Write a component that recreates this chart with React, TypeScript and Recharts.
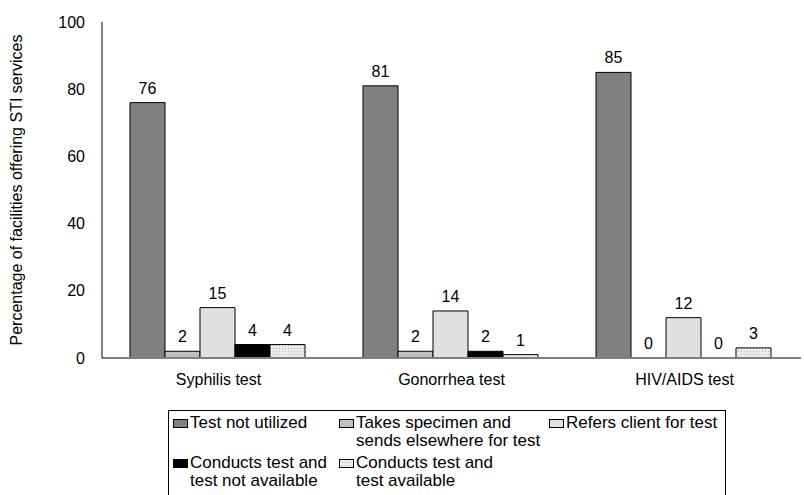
import { BarChart, Bar, XAxis, YAxis, Legend, LabelList, Label, Cell } from "recharts";

const tests = ["Syphilis test", "Gonorrhea test", "HIV/AIDS test"];
const notUtilized = [76, 81, 85];
const sendsElsewhere = [2, 2, 0];
const refersClient = [15, 14, 12];
const notAvailable = [4, 2, 0];
const available = [4, 1, 3];
const yTicks = [0, 20, 40, 60, 80, 100];

const seriesList = [
  { key: "notUtilized", name: "Test not utilized", fill: "#808080" },
  { key: "sendsElsewhere", name: "Takes specimen and\nsends elsewhere for test", fill: "#c0c0c0" },
  { key: "refersClient", name: "Refers client for test", fill: "#e0e0e0" },
  { key: "notAvailable", name: "Conducts test and\ntest not available", fill: "#000000" },
  { key: "available", name: "Conducts test and\ntest available", fill: "url(#dots)" },
];

const data = tests.map((t, i) => ({
  test: t,
  notUtilized: notUtilized[i],
  sendsElsewhere: sendsElsewhere[i],
  refersClient: refersClient[i],
  notAvailable: notAvailable[i],
  available: available[i],
}));

const font = "'Liberation Sans', Arial, sans-serif";

// legend in 3 columns, like the excel original
const LegendBox = () => {
  const cols = [4, 170, 380];
  return (
    <div style={{ position: "relative", width: "100%", height: "100%", fontFamily: font, fontSize: 17, color: "#000" }}>
      {seriesList.map((s, i) => {
        const col = i % 3;
        const row = Math.floor(i / 3);
        return (
          <div
            key={s.key}
            style={{ position: "absolute", left: cols[col], top: 3 + row * 40, display: "flex", alignItems: "flex-start" }}
          >
            <svg width={16} height={10} style={{ marginTop: 5, marginRight: 1 }}>
              <rect x={0.5} y={0.5} width={14} height={8} fill={s.fill} stroke="#000" />
            </svg>
            <div style={{ whiteSpace: "pre", lineHeight: "18px" }}>{s.name}</div>
          </div>
        );
      })}
    </div>
  );
};

export default function App() {
  return (
    <div style={{ position: "absolute", left: 0, top: 0, width: 804, height: 495, overflow: "hidden", background: "#fff" }}>
      <BarChart
        width={804}
        height={495}
        data={data}
        margin={{ top: 22, right: 3, bottom: 17, left: 0 }}
        barCategoryGap={28}
        barGap={0}
        style={{ fontFamily: font }}
      >
        <defs>
          <pattern id="dots" width="3" height="3" patternUnits="userSpaceOnUse">
            <rect width="3" height="3" fill="#ececec" />
            <rect width="1" height="1" fill="#b8b8b8" />
          </pattern>
        </defs>
        <XAxis
          dataKey="test"
          height={30}
          tickLine={false}
          axisLine={{ stroke: "#808080", strokeWidth: 2 }}
          tick={{ fill: "#000", fontSize: 16 }}
          tickMargin={10}
        />
        <YAxis
          width={102}
          domain={[0, 100]}
          ticks={yTicks}
          tickLine={false}
          axisLine={{ stroke: "#000" }}
          tick={{ fill: "#000", fontSize: 16 }}
          tickMargin={11}
        >
          <Label
            value="Percentage of facilities offering STI services"
            angle={-90}
            position="insideLeft"
            offset={16}
            style={{ textAnchor: "middle", fill: "#000", fontSize: 16 }}
          />
        </YAxis>
        <Legend
          content={<LegendBox />}
          wrapperStyle={{ left: 168, top: 410, width: 558, height: 90, border: "1px solid #000", boxSizing: "border-box" }}
        />
        {seriesList.map((s) => (
          <Bar
            key={s.key}
            dataKey={s.key}
            name={s.name}
            fill={s.fill}
            stroke="#000"
            strokeWidth={1}
            minPointSize={(v: number) => (v === 0 ? 0.01 : 0)}
            isAnimationActive={false}
          >
            {data.map((d, i) => (
              <Cell
                key={i}
                fill={(d as any)[s.key] === 0 ? "none" : s.fill}
                stroke={(d as any)[s.key] === 0 ? "none" : "#000"}
              />
            ))}
            <LabelList dataKey={s.key} position="top" offset={9} fill="#000" fontSize={16} />
          </Bar>
        ))}
      </BarChart>
    </div>
  );
}
